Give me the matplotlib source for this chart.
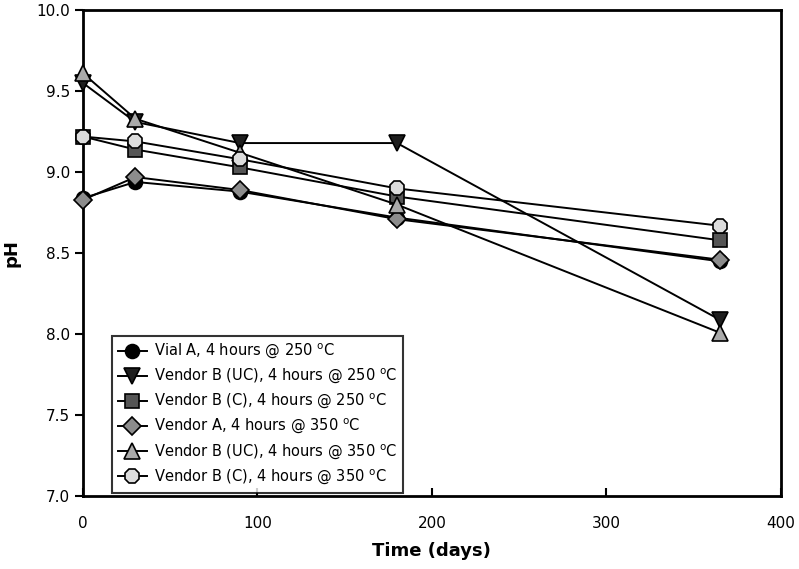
import matplotlib
matplotlib.use("Agg")
import matplotlib.pyplot as plt

days = [0, 30, 90, 180, 365]
vial_a_250 = [8.84, 8.94, 8.88, 8.72, 8.45]
vendor_b_uc_250 = [9.55, 9.31, 9.18, 9.18, 8.09]
vendor_b_c_250 = [9.22, 9.14, 9.03, 8.85, 8.58]
vendor_a_350 = [8.83, 8.97, 8.89, 8.71, 8.46]
vendor_b_uc_350 = [9.61, 9.33, 9.12, 8.80, 8.01]
vendor_b_c_350 = [9.22, 9.19, 9.08, 8.90, 8.67]

labels = [
    "Vial A, 4 hours @ 250 $^{\\mathregular{o}}$C",
    "Vendor B (UC), 4 hours @ 250 $^{\\mathregular{o}}$C",
    "Vendor B (C), 4 hours @ 250 $^{\\mathregular{o}}$C",
    "Vendor A, 4 hours @ 350 $^{\\mathregular{o}}$C",
    "Vendor B (UC), 4 hours @ 350 $^{\\mathregular{o}}$C",
    "Vendor B (C), 4 hours @ 350 $^{\\mathregular{o}}$C",
]
series = [vial_a_250, vendor_b_uc_250, vendor_b_c_250, vendor_a_350, vendor_b_uc_350, vendor_b_c_350]
markers = ["o", "v", "s", "D", "^", "8"]
colors = ["#000000", "#1e1e1e", "#555555", "#8c8c8c", "#aaaaaa", "#dcdcdc"]
sizes = [10, 11, 10, 9, 11, 11]

fig = plt.figure(figsize=(7.99, 5.69), dpi=100)
ax = fig.add_axes([0.104, 0.128, 0.873, 0.854])

for y, lab, m, c, s in zip(series, labels, markers, colors, sizes):
    ax.plot(days, y, color="black", lw=1.4, marker=m, markersize=s,
            markerfacecolor=c, markeredgecolor="black", markeredgewidth=1.2,
            label=lab, clip_on=False, zorder=3)

ax.set_xlim(0, 400)
ax.set_ylim(7.0, 10.0)
ax.set_xticks([0, 100, 200, 300, 400])
ax.set_yticks([7.0, 7.5, 8.0, 8.5, 9.0, 9.5, 10.0])
ax.set_yticklabels(["7.0", "7.5", "8.0", "8.5", "9.0", "9.5", "10.0"])
ax.tick_params(axis="y", direction="out", length=6, width=1.5, labelsize=11)
ax.tick_params(axis="x", direction="in", length=6, width=1.5, labelsize=11, pad=14)
for sp in ax.spines.values():
    sp.set_linewidth(2)

ax.set_xlabel("Time (days)", fontsize=13, fontweight="bold", labelpad=8)
ax.set_ylabel("pH", fontsize=13, fontweight="bold", labelpad=11)

leg = ax.legend(loc="lower left", bbox_to_anchor=(0.036, 0.0), fontsize=10.5,
                frameon=True, fancybox=False, edgecolor="black", borderaxespad=0.25,
                handlelength=2.0, borderpad=0.4, labelspacing=0.42, handletextpad=0.5)
leg.get_frame().set_linewidth(1.5)
leg.set_zorder(5)

fig.savefig("out.png", dpi=100)
